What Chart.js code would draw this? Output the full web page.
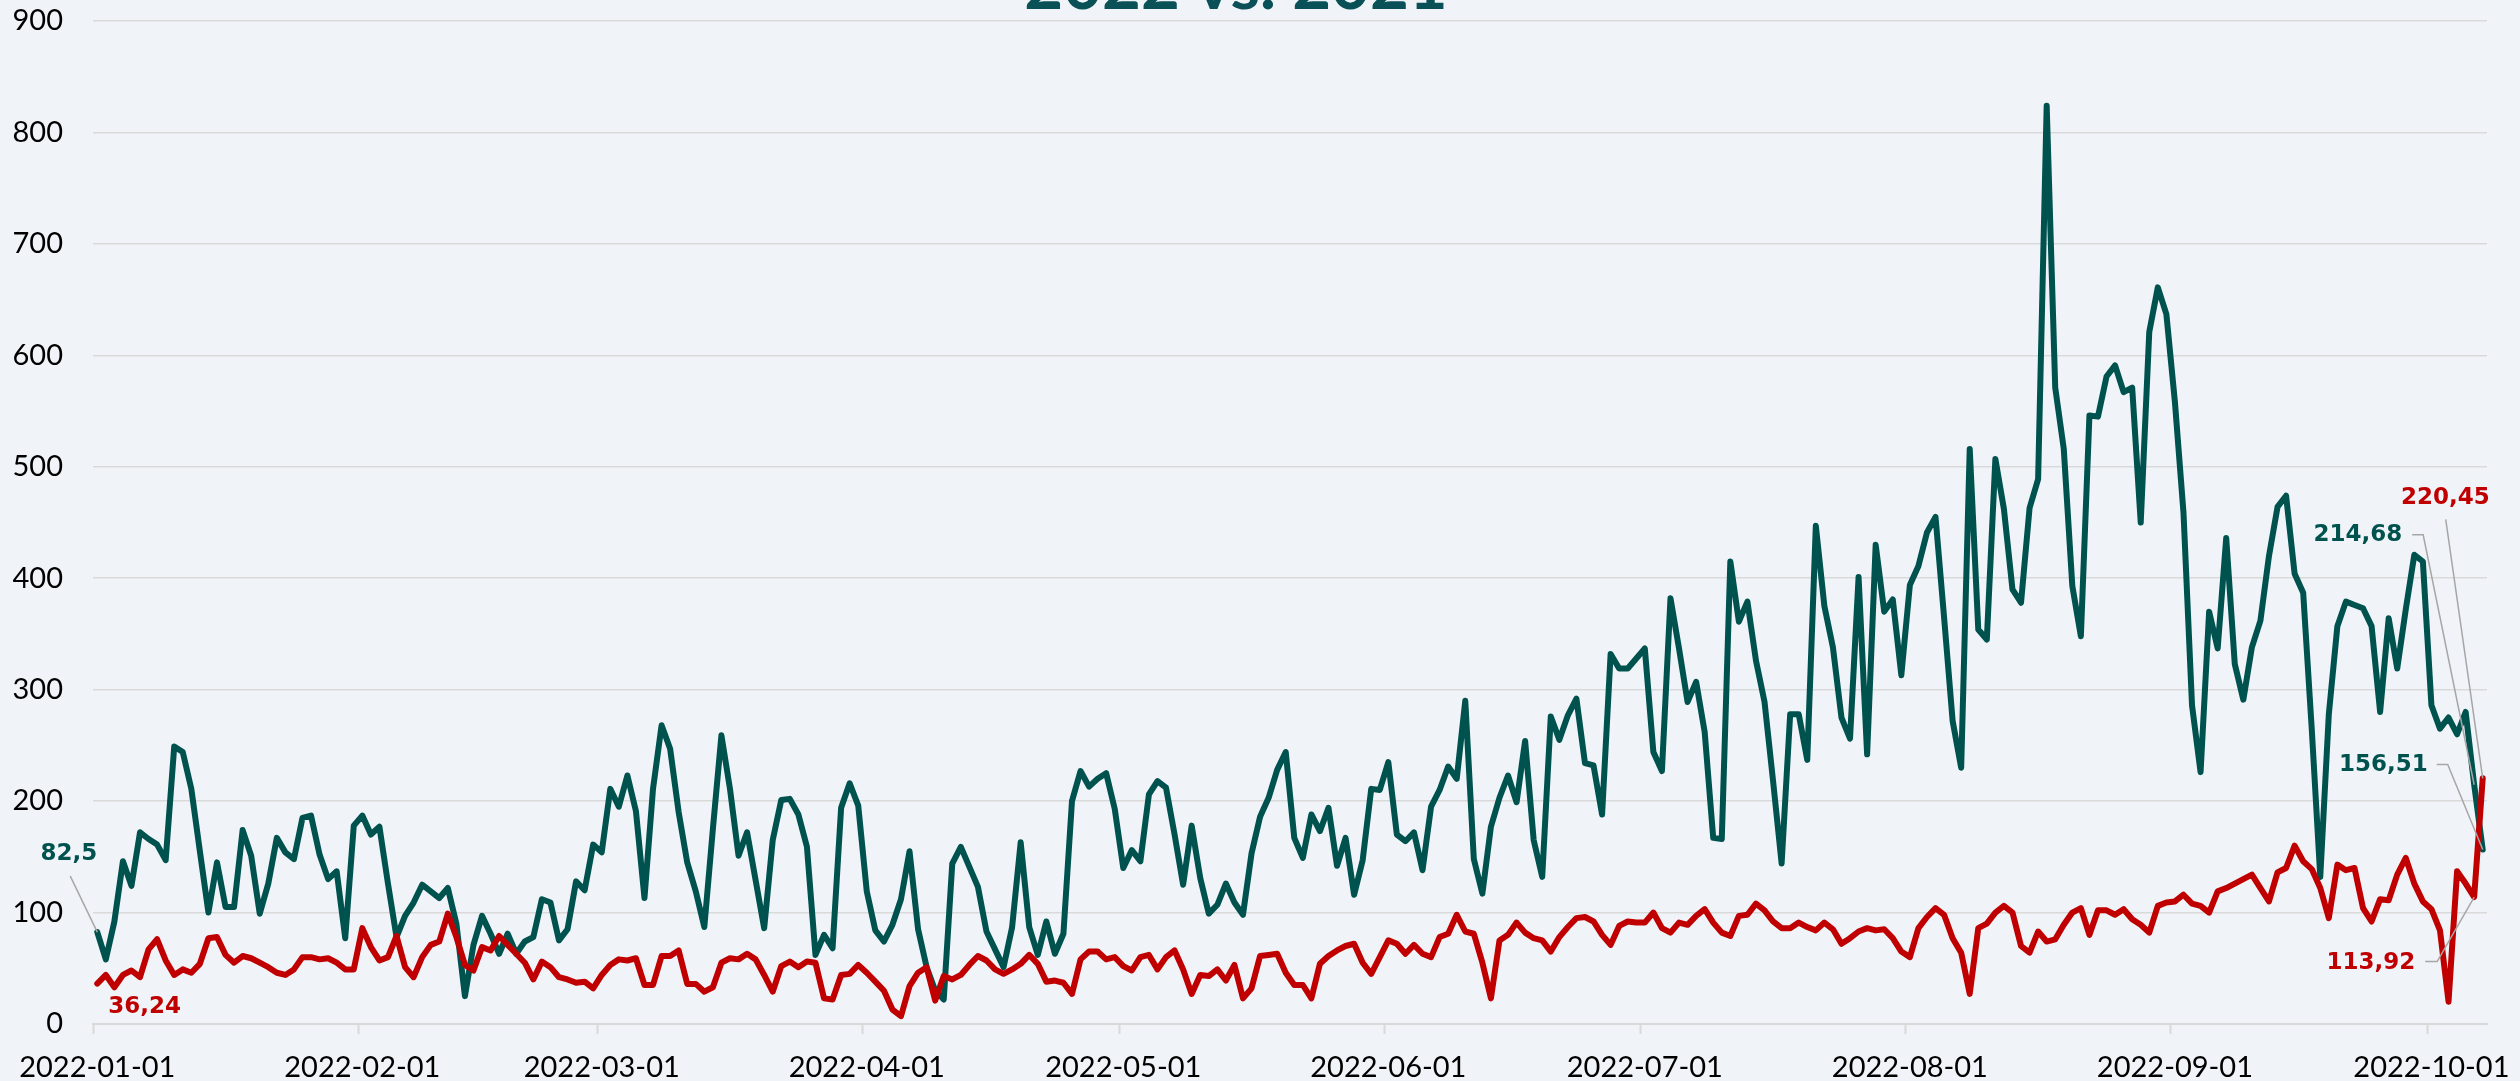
<!DOCTYPE html>
<html>
<head>
<meta charset="utf-8">
<script src="https://cdn.jsdelivr.net/npm/chart.js@4.4.1/dist/chart.umd.min.js"></script>
<style>
html, body { margin: 0; padding: 0; background: #F0F4F8; overflow: hidden; }
#wrap { width: 2520px; height: 1081px; position: relative; }
</style>
</head>
<body>
<div id="wrap"><canvas id="c"></canvas></div>
<script>
// ---- data ----
const chartTitle = '2022 vs. 2021';
const startDate = '2022-01-01';
const dayCount = 280;
const monthTicks = ['2022-01-01','2022-02-01','2022-03-01','2022-04-01','2022-05-01',
                    '2022-06-01','2022-07-01','2022-08-01','2022-09-01','2022-10-01'];
const yTicks = [0,100,200,300,400,500,600,700,800,900];

const values2022 = [
  82.5,58,92,146,124,172,166,161,147,249, 244,211,155,100,145,105,105,174,151,99,
  126,167,154,148,185,187,152,130,137,77, 178,187,170,177,126,78,97,109,125,119,
  113,122,90,25,71,97,81,63,81,63, 74,78,112,109,75,85,128,120,161,154,
  211,195,223,191,113,211,268,247,190,145, 119,87,175,259,211,151,172,129,86,165,
  201,202,188,159,62,80,68,194,216,196, 119,84,74,89,112,155,85,51,30,22,
  144,159,141,123,83,67,51,87,163,87, 62,92,63,81,200,227,213,220,225,193,
  140,156,146,206,218,212,170,125,178,131, 99,107,126,109,98,153,186,203,228,244,
  167,149,188,173,194,142,167,116,147,211, 210,235,170,164,172,138,195,210,231,220,
  290,148,117,177,203,223,199,254,165,132, 276,255,277,292,234,232,188,332,319,319,
  328,337,244,227,382,337,289,307,262,167, 166,415,361,379,326,289,218,144,278,278,
  237,447,375,338,275,256,401,242,430,370, 381,313,394,411,441,455,365,272,230,516,
  354,345,507,462,390,378,463,489,824,571, 516,393,348,546,545,581,591,567,571,450,
  621,661,637,558,459,286,226,370,337,436, 323,291,338,362,420,464,474,404,387,265,
  132,278,357,379,376,373,357,280,364,319, 372,421,415,286,265,275,260,280,214.68,156.51
];

const values2021 = [
  36.24,44,33,44,48,42,67,76,57,44, 49,46,54,77,78,62,55,61,59,55,
  51,46,44,49,60,60,58,59,55,49, 49,86,69,57,60,79,51,42,60,71,
  74,99,78,53,48,69,66,79,71,63, 55,40,56,51,42,40,37,38,32,44,
  53,58,57,59,35,35,61,61,66,36, 36,29,33,55,59,58,63,58,44,29,
  52,56,51,56,55,23,22,44,45,53, 46,38,30,13,7,34,46,51,21,43,
  40,44,53,61,57,49,45,49,54,62, 54,38,39,37,27,58,65,65,58,60,
  52,48,60,62,49,60,66,49,27,44, 43,49,39,53,23,32,61,62,63,46,
  35,35,23,54,61,66,70,72,55,45, 60,75,72,63,71,63,60,78,81,98,
  83,81,55,23,75,80,91,82,77,75, 65,78,87,95,96,92,80,71,88,92,
  91,91,100,86,82,91,89,97,103,91, 82,79,97,98,108,102,92,86,86,91,
  87,84,91,85,72,77,83,86,84,85, 77,65,60,86,96,104,98,77,64,27,
  86,90,100,106,100,70,64,83,74,76, 89,100,104,80,102,102,98,103,94,89,
  82,106,109,110,116,108,106,100,119,122, 126,130,134,122,110,136,140,160,146,139,
  122,95,143,138,140,104,92,112,111,134, 149,126,110,103,84,20,137,126,113.92,220.45
];

// category labels (consecutive days)
const dates = [];
(function () {
  const d0 = new Date(startDate + 'T00:00:00Z');
  for (let i = 0; i < dayCount; i++) {
    const d = new Date(d0.getTime() + i * 86400000);
    dates.push(d.toISOString().slice(0, 10));
  }
})();

const COL_2022 = '#00524F';
const COL_2021 = '#C00000';
const COL_TITLE = '#0A5157';
const COL_GRID = '#D9D9D9';
const COL_BG = '#F0F4F8';
const COL_LEADER = '#A6A6A6';

// data labels (which point, and where the label sits relative to it)
const labelSpecs = [
  { ds: 1, idx: 0,   align: 'right', dx: 0,   dy: -78,  leader: [[-27, -56]] },
  { ds: 0, idx: 0,   align: 'left',  dx: 11,  dy: 23,   leader: [] },
  { ds: 1, idx: 278, align: 'right', dx: -72, dy: -250, leader: [[-51, -250], [-62, -250]] },
  { ds: 1, idx: 279, align: 'right', dx: -55, dy: -85,  leader: [[-35, -85], [-46, -85]] },
  { ds: 0, idx: 279, align: 'right', dx: 7,   dy: -280, leader: [[-37, -259]] },
  { ds: 0, idx: 278, align: 'right', dx: -59, dy: 66,   leader: [[-37, 64.5], [-49, 64.5]] }
];

const fmt = v => String(v).replace('.', ',');

const bgPlugin = {
  id: 'bg',
  beforeDraw(chart) {
    const ctx = chart.ctx;
    ctx.save();
    ctx.fillStyle = COL_BG;
    ctx.fillRect(0, 0, chart.width, chart.height);
    ctx.restore();
  }
};

const titlePlugin = {
  id: 'cutTitle',
  afterDraw(chart) {
    const ctx = chart.ctx;
    ctx.save();
    ctx.font = 'bold 67px Lato';
    ctx.fillStyle = COL_TITLE;
    ctx.textAlign = 'center';
    ctx.textBaseline = 'alphabetic';
    ctx.fillText(chartTitle, 1236, 9);
    ctx.restore();
  }
};

const labelPlugin = {
  id: 'pointLabels',
  afterDatasetsDraw(chart) {
    const ctx = chart.ctx;
    const xs = chart.scales.x, ys = chart.scales.y;
    ctx.save();
    labelSpecs.forEach(s => {
      const ds = chart.data.datasets[s.ds];
      const value = ds.data[s.idx];
      const px = xs.getPixelForValue(s.idx);
      const py = ys.getPixelForValue(value);
      if (s.leader.length) {
        ctx.beginPath();
        ctx.strokeStyle = COL_LEADER;
        ctx.lineWidth = 1.5;
        ctx.moveTo(px, py);
        s.leader.forEach(([ox, oy]) => ctx.lineTo(px + ox, py + oy));
        ctx.stroke();
      }
      ctx.font = 'bold 23px "DejaVu Sans"';
      ctx.fillStyle = ds.borderColor;
      ctx.textAlign = s.align;
      ctx.textBaseline = 'middle';
      ctx.fillText(fmt(value), px + s.dx, py + s.dy);
    });
    ctx.restore();
  }
};

const tickFont = { family: 'Lato', size: 29 };

new Chart(document.getElementById('c'), {
  type: 'line',
  data: {
    labels: dates,
    datasets: [
      { label: '2021', data: values2021, borderColor: COL_2021, backgroundColor: COL_2021 },
      { label: '2022', data: values2022, borderColor: COL_2022, backgroundColor: COL_2022 }
    ]
  },
  options: {
    responsive: true,
    maintainAspectRatio: false,
    animation: false,
    devicePixelRatio: 1,
    layout: { padding: { left: 13, right: 33, top: 21, bottom: 0 } },
    plugins: { legend: { display: false }, title: { display: false }, tooltip: { enabled: false } },
    elements: {
      point: { radius: 0, hoverRadius: 0 },
      line: { borderWidth: 6, tension: 0, borderJoinStyle: 'round', borderCapStyle: 'round', fill: false }
    },
    scales: {
      x: {
        type: 'category',
        offset: true,
        grid: {
          offset: true,
          drawOnChartArea: false,
          drawTicks: true,
          tickLength: 10,
          tickWidth: 2,
          color: 'rgba(0,0,0,0)',
          tickColor: ctx => (dates[ctx.index] && monthTicks.includes(dates[ctx.index])) ? COL_GRID : 'rgba(0,0,0,0)'
        },
        border: { display: true, color: COL_GRID, width: 2 },
        ticks: {
          autoSkip: false, maxRotation: 0, minRotation: 0, padding: 16,
          color: '#000', font: tickFont,
          callback: function (v) { const l = this.getLabelForValue(v); return monthTicks.includes(l) ? l : ''; }
        },
        afterFit: s => { s.height = 57; }
      },
      y: {
        min: yTicks[0], max: yTicks[yTicks.length - 1],
        afterBuildTicks: s => { s.ticks = yTicks.map(v => ({ value: v })); },
        ticks: { padding: 30, color: '#000', font: tickFont },
        grid: { color: COL_GRID, lineWidth: 1.5, drawTicks: false },
        border: { display: false },
        afterFit: s => { s.width = 80; s.paddingTop = 0; s.paddingBottom = 0; }
      }
    }
  },
  plugins: [bgPlugin, titlePlugin, labelPlugin]
});
</script>
</body>
</html>
